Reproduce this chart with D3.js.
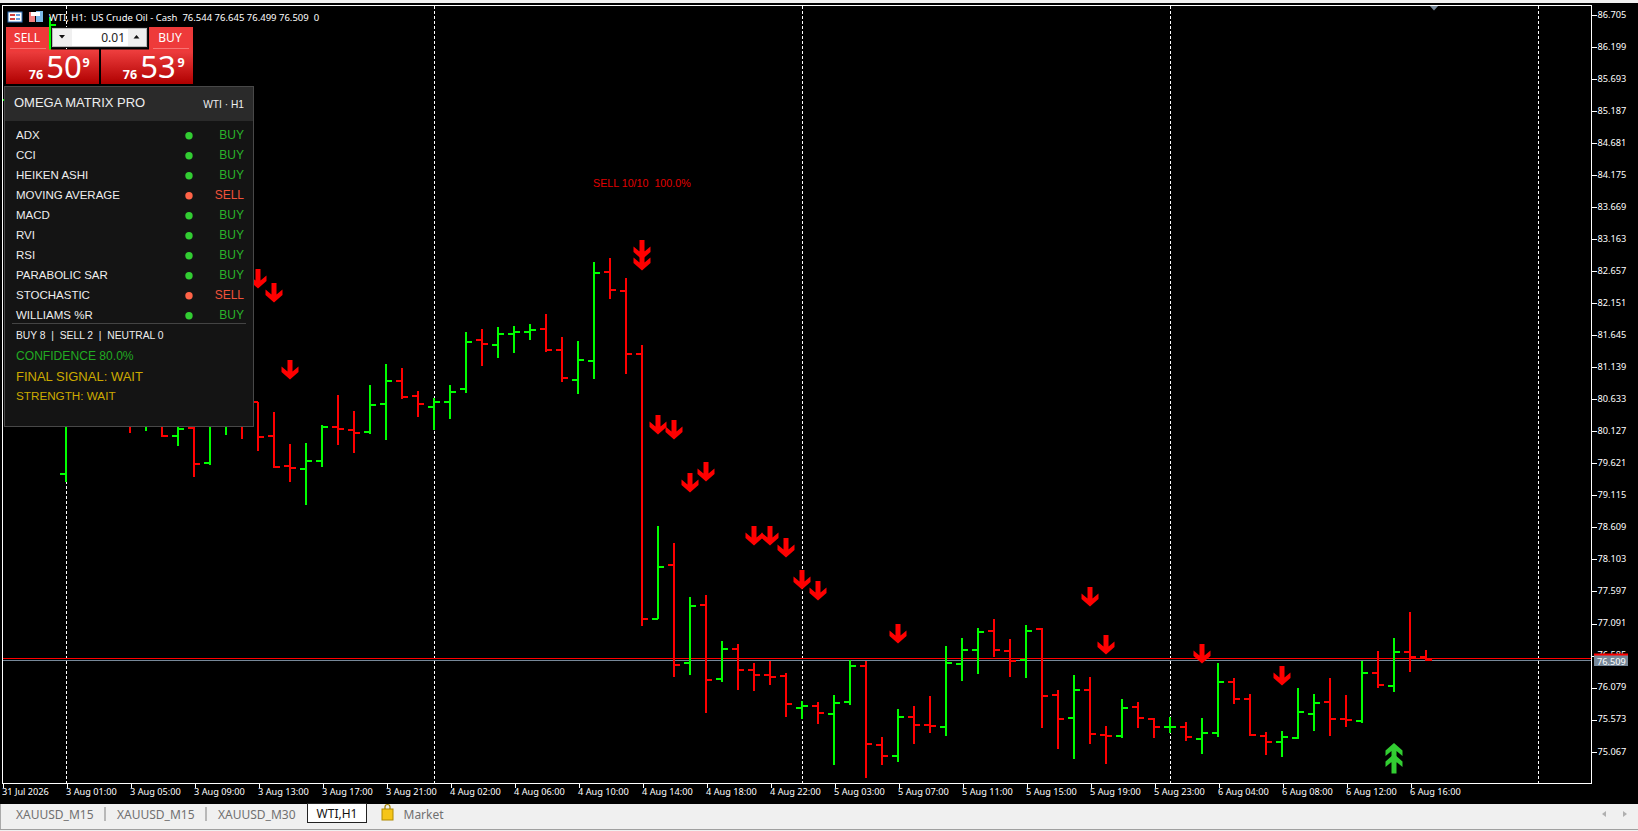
<!DOCTYPE html>
<html><head><meta charset="utf-8">
<style>
html,body{margin:0;padding:0;background:#000;overflow:hidden}
svg{display:block}
text{white-space:pre}
</style>
<script src="https://cdn.jsdelivr.net/npm/d3@7"></script>
</head><body>
<svg id="c" width="1638" height="831" xmlns="http://www.w3.org/2000/svg"></svg>
<script>
// ---------- DATA ----------
const firstBarIndex = -4; // bar 0 = 3 Aug 01:00
const opens = [85.30,85.358,85.30,85.90,79.45,80.62,80.70,80.90,80.60,80.30,80.50,80.053,80.179,79.626,80.25,80.40,80.589,80.057,79.579,79.536,79.658,80.199,80.147,80.116,80.563,80.926,80.689,80.515,80.594,80.799,81.573,81.494,81.668,81.699,81.747,81.415,80.942,81.241,82.647,82.347,81.352,77.168,78.020,76.473,77.389,76.220,76.694,76.362,76.283,76.268,75.762,75.794,75.668,75.857,76.426,75.178,75.004,75.620,75.494,75.462,76.457,76.678,76.978,76.662,76.520,77.005,75.968,75.604,76.047,75.336,75.320,75.778,75.589,75.462,75.462,75.273,75.368,76.173,75.905,75.320,75.226,75.279,75.668,75.857,75.589,75.557,76.315,76.110,76.647,76.568];
const highs = [85.50,85.50,85.40,86.668,80.779,80.90,81.10,81.20,80.90,80.70,80.60,80.40,80.45,80.45,80.50,80.60,80.589,80.431,79.926,79.937,80.226,80.700,80.447,80.858,81.189,81.126,80.763,80.653,80.858,81.695,81.742,81.774,81.789,81.821,81.979,81.616,81.553,82.800,82.863,82.547,81.489,78.631,78.363,77.510,77.542,76.816,76.768,76.468,76.500,76.310,75.868,75.853,75.963,76.516,76.500,75.300,75.742,75.789,75.947,76.737,76.863,77.021,77.163,76.847,77.068,77.021,76.042,76.279,76.247,75.478,75.900,75.853,75.600,75.616,75.536,75.604,76.468,76.231,75.979,75.379,75.395,76.073,75.979,76.231,75.963,76.500,76.658,76.863,77.274,76.673];
const lows = [85.20,85.10,85.10,85.70,79.326,80.30,80.50,80.40,80.10,80.136,80.037,79.895,79.410,79.595,80.068,80.010,79.820,79.547,79.326,78.963,79.563,79.910,79.789,80.089,79.989,80.637,80.353,80.147,80.321,80.732,81.158,81.284,81.363,81.568,81.379,80.905,80.716,80.953,82.216,81.032,77.057,77.158,76.247,76.279,75.679,76.168,76.042,76.026,76.121,75.616,75.584,75.505,74.858,75.805,74.652,74.858,74.905,75.194,75.368,75.320,76.189,76.299,76.568,76.252,76.236,75.446,75.115,74.957,75.194,74.878,75.289,75.446,75.289,75.368,75.241,75.036,75.304,75.825,75.320,75.020,74.989,75.263,75.399,75.320,75.462,75.525,76.078,76.015,76.331,76.505];
const closes = [85.358,85.20,85.25,86.542,80.62,80.70,80.90,80.60,80.30,80.50,80.053,80.168,79.610,80.25,80.40,80.25,80.041,79.568,79.547,79.663,80.199,80.168,80.105,80.547,80.926,80.673,80.563,80.594,80.752,81.541,81.510,81.668,81.699,81.731,81.415,80.973,81.257,82.631,82.363,81.352,77.168,77.989,76.441,77.373,76.205,76.694,76.362,76.283,76.252,75.826,75.794,75.684,75.841,76.426,75.194,75.004,75.620,75.494,75.478,76.473,76.678,76.962,76.678,76.505,76.978,75.952,75.589,76.047,75.352,75.320,75.762,75.604,75.462,75.462,75.304,75.368,76.173,75.905,75.336,75.226,75.304,75.699,75.841,75.589,75.573,76.315,76.126,76.647,76.558,76.509];

const priceTicks = [86.705,86.199,85.693,85.187,84.681,84.175,83.669,83.163,82.657,82.151,81.645,81.139,80.633,80.127,79.621,79.115,78.609,78.103,77.597,77.091,76.585,76.079,75.573,75.067];
const timeTickBars = [-4,0,4,8,12,16,20,24,28,32,36,40,44,48,52,56,60,64,68,72,76,80,84];
const timeLabels = ["31 Jul 2026","3 Aug 01:00","3 Aug 05:00","3 Aug 09:00","3 Aug 13:00","3 Aug 17:00","3 Aug 21:00","4 Aug 02:00","4 Aug 06:00","4 Aug 10:00","4 Aug 14:00","4 Aug 18:00","4 Aug 22:00","5 Aug 03:00","5 Aug 07:00","5 Aug 11:00","5 Aug 15:00","5 Aug 19:00","5 Aug 23:00","6 Aug 04:00","6 Aug 08:00","6 Aug 12:00","6 Aug 16:00"];
const separatorBars = [0,23,46,69,92];

const sellArrowBars = [12,13,14,36,36,37,38,39,40,43,44,45,46,47,52,64,65,71,76];
const sellArrowPrices = [82.689,82.468,81.253,83.147,82.974,80.384,80.305,79.468,79.642,78.631,78.631,78.442,77.937,77.763,77.084,77.668,76.910,76.768,76.421];
const buyArrowBars = [83,83];
const buyArrowPrices = [75.205,75.031];

const bidPrice = 76.509, askPrice = 76.539;

const indicatorNames = ["ADX","CCI","HEIKEN ASHI","MOVING AVERAGE","MACD","RVI","RSI","PARABOLIC SAR","STOCHASTIC","WILLIAMS %R"];
const indicatorSignals = ["BUY","BUY","BUY","SELL","BUY","BUY","BUY","BUY","SELL","BUY"];
const tabNames = ["XAUUSD_M15","XAUUSD_M15","XAUUSD_M30"];

// ---------- SCALES ----------
const x = d3.scaleLinear().domain([-4,92]).range([2,1538]);
const y = d3.scaleLinear().domain([86.705,75.067]).range([14.7,751.7]);

const svg = d3.select("#c");
const defs = svg.append("defs");
const gr = defs.append("linearGradient").attr("id","btn").attr("x1",0).attr("x2",0).attr("y1",0).attr("y2",1);
gr.append("stop").attr("offset","0").attr("stop-color","#f04040");
gr.append("stop").attr("offset","1").attr("stop-color","#b00000");
defs.append("clipPath").attr("id","plot").append("rect").attr("x",2).attr("y",5).attr("width",1590).attr("height",779);

const axisFont = "'Noto Sans',sans-serif";
svg.append("rect").attr("width",1638).attr("height",831).attr("fill","#000");

const plot = svg.append("g").attr("clip-path","url(#plot)");

// separators
plot.append("g").selectAll("line").data(separatorBars).join("line")
  .attr("x1",d=>x(d)+0.5).attr("x2",d=>x(d)+0.5).attr("y1",6).attr("y2",783)
  .attr("stroke","#fff").attr("stroke-width",1).attr("stroke-dasharray","3,2");

// bid/ask lines
[[bidPrice,"#778899"],[askPrice,"#ff0000"]].forEach(([p,col])=>{
  const py = Math.floor(y(p))+0.5;
  plot.append("line").attr("x1",2).attr("x2",1592).attr("y1",py).attr("y2",py)
    .attr("stroke",col).attr("stroke-width",1).attr("shape-rendering","crispEdges");
});

// OHLC bars
const bars = opens.map((o,i)=>({i:i+firstBarIndex,o,h:highs[i],l:lows[i],c:closes[i]}));
const colr = d=>d.c>=d.o?"#00ff00":"#ff0000";
const bg = plot.append("g").attr("shape-rendering","crispEdges");
bg.selectAll(".hl").data(bars).join("rect").attr("class","hl")
  .attr("x",d=>x(d.i)-1).attr("width",2).attr("y",d=>y(d.h)).attr("height",d=>y(d.l)-y(d.h)).attr("fill",colr);
bg.selectAll(".op").data(bars).join("rect").attr("class","op")
  .attr("x",d=>x(d.i)-6).attr("width",6).attr("y",d=>Math.round(y(d.o))-1).attr("height",2).attr("fill",colr);
bg.selectAll(".cl").data(bars).join("rect").attr("class","cl")
  .attr("x",d=>x(d.i)).attr("width",6).attr("y",d=>Math.round(y(d.c))-1).attr("height",2).attr("fill",colr);

// arrows
const downPts = [[-2.5,0],[2.5,0],[2.5,11.5],[8.5,6.5],[8.5,12],[0,19.5],[-8.5,12],[-8.5,6.5],[-2.5,11.5]];
const upPts = downPts.map(p=>[p[0],19.5-p[1]]);
plot.append("g").selectAll("polygon").data(sellArrowBars.map((b,i)=>({b,p:sellArrowPrices[i]}))).join("polygon")
  .attr("points",downPts.map(p=>p.join(",")).join(" ")).attr("fill","#ff0000")
  .attr("transform",d=>`translate(${x(d.b)},${y(d.p)})`);
plot.append("g").selectAll("polygon").data(buyArrowBars.map((b,i)=>({b,p:buyArrowPrices[i]}))).join("polygon")
  .attr("points",upPts.map(p=>p.join(",")).join(" ")).attr("fill","#32cd32")
  .attr("transform",d=>`translate(${x(d.b)},${y(d.p)})`);

// shift marker
svg.append("polygon").attr("points","1429,5 1439,5 1434,10.5").attr("fill","#778899");

// frame
svg.append("rect").attr("x",2.5).attr("y",5.5).attr("width",1589).attr("height",778).attr("fill","none").attr("stroke","#fff").attr("stroke-width",1).attr("shape-rendering","crispEdges");

// axes
const yAxis = d3.axisRight(y).tickValues(priceTicks).tickFormat(d=>d.toFixed(3)).tickSize(5).tickPadding(1);
const yg = svg.append("g").attr("transform","translate(1591.5,0)").call(yAxis);
yg.select(".domain").remove();
yg.selectAll("line").attr("stroke","#fff").attr("shape-rendering","crispEdges");
yg.selectAll("text").attr("fill","#fff").attr("font-family",axisFont).attr("font-size",9.2).attr("dy","0.25em");

const xAxis = d3.axisBottom(x).tickValues(timeTickBars).tickFormat((d,i)=>timeLabels[i]).tickSize(4).tickPadding(1);
const xg = svg.append("g").attr("transform","translate(0.5,783.5)").call(xAxis);
xg.select(".domain").remove();
xg.selectAll("line").attr("stroke","#fff").attr("shape-rendering","crispEdges");
xg.selectAll("text").attr("fill","#fff").attr("font-family",axisFont).attr("font-size",9.2).attr("text-anchor","start").attr("dx",-1);

// bid label
svg.append("rect").attr("x",1594).attr("y",655).attr("width",34).attr("height",11).attr("fill","#778899");
svg.append("rect").attr("x",1594).attr("y",653.5).attr("width",34).attr("height",2).attr("fill","#ff0000");
svg.append("text").attr("x",1597).attr("y",664.5).attr("fill","#fff").attr("font-family",axisFont).attr("font-size",9.2).text(bidPrice.toFixed(3));

// SELL signal text
svg.append("text").attr("x",593).attr("y",187).attr("fill","#e00000").attr("font-family","'Liberation Sans',sans-serif").attr("font-size",10.7).text("SELL 10/10  100.0%");

// title
svg.append("rect").attr("x",8).attr("y",12).attr("width",14).attr("height",10).attr("fill","#fff").attr("stroke","#2f6fb5");
svg.append("rect").attr("x",10).attr("y",14).attr("width",5).attr("height",2).attr("fill","#d04040");
svg.append("rect").attr("x",16).attr("y",14).attr("width",4).attr("height",2).attr("fill","#6aa0e0");
svg.append("rect").attr("x",10).attr("y",18).attr("width",5).attr("height",2).attr("fill","#d04040");
svg.append("rect").attr("x",16).attr("y",18).attr("width",4).attr("height",2).attr("fill","#6aa0e0");
svg.append("rect").attr("x",29).attr("y",12).attr("width",6).attr("height",10).attr("fill","#f08080");
svg.append("rect").attr("x",36).attr("y",11).attr("width",7).attr("height",11).attr("fill","#7ab8e8");
svg.append("rect").attr("x",31).attr("y",12).attr("width",9).attr("height",4).attr("fill","#fff");
svg.append("text").attr("x",49).attr("y",21).attr("fill","#fff").attr("font-family",axisFont).attr("font-size",9.5).text("WTI, H1:  US Crude Oil - Cash  76.544 76.645 76.499 76.509  0");

// trade panel
const btn = "url(#btn)", uiFont = "'Noto Sans',sans-serif";
svg.append("rect").attr("x",6).attr("y",27).attr("width",43).attr("height",23).attr("fill","#ee3a3a");
svg.append("rect").attr("x",149).attr("y",27).attr("width",44).attr("height",23).attr("fill","#ee3a3a");
svg.append("rect").attr("x",10).attr("y",48.5).attr("width",36).attr("height",1).attr("fill","#ffb0b0");
svg.append("rect").attr("x",153).attr("y",48.5).attr("width",36).attr("height",1).attr("fill","#ffb0b0");
svg.append("rect").attr("x",6).attr("y",49.5).attr("width",93).attr("height",34.5).attr("fill",btn);
svg.append("rect").attr("x",101).attr("y",49.5).attr("width",92).attr("height",34.5).attr("fill",btn);
svg.append("rect").attr("x",6).attr("y",49).attr("width",43).attr("height",3).attr("fill","#ee3a3a");
svg.append("rect").attr("x",149).attr("y",49).attr("width",44).attr("height",3).attr("fill","#ee3a3a");
svg.append("rect").attr("x",51).attr("y",27).attr("width",97).attr("height",21).attr("fill","#111");
svg.append("rect").attr("x",52.5).attr("y",28.5).attr("width",94).attr("height",18).attr("fill","#fff").attr("stroke","#bbb");
svg.append("rect").attr("x",53).attr("y",29).attr("width",19).attr("height",17).attr("fill","#f0f0f0");
svg.append("rect").attr("x",128).attr("y",29).attr("width",18).attr("height",17).attr("fill","#f0f0f0");
svg.append("polygon").attr("points","59,35 65,35 62,38.5").attr("fill","#111");
svg.append("polygon").attr("points","133.5,38.5 139.5,38.5 136.5,35").attr("fill","#111");
const wt = (t,xx,yy,s,a,w)=>svg.append("text").attr("x",xx).attr("y",yy).attr("fill","#fff").attr("font-family",uiFont).attr("font-size",s).attr("text-anchor",a||"start").attr("font-weight",w||400).text(t);
wt("SELL",27,42,12,"middle");
wt("BUY",170,42,12,"middle");
svg.append("text").attr("x",125).attr("y",42).attr("fill","#222").attr("font-family",uiFont).attr("font-size",12).attr("text-anchor","end").text("0.01");
wt("76",36,79,12.5,"middle",700);
wt("50",64,78,31,"middle");
wt("9",86,67,12.5,"middle",700);
wt("76",130,79,12.5,"middle",700);
wt("53",158,78,31,"middle");
wt("9",181,67,12.5,"middle",700);

// Omega panel
const pFont = "'Liberation Sans',sans-serif";
const panel = svg.append("g");
panel.append("rect").attr("x",4.5).attr("y",86.5).attr("width",249).attr("height",340).attr("fill","#141414").attr("stroke","#484848").attr("shape-rendering","crispEdges");
panel.append("rect").attr("x",5).attr("y",87).attr("width",248).attr("height",34).attr("fill","#2a2a2a");
const pt = (t,xx,yy,s,f,a)=>panel.append("text").attr("x",xx).attr("y",yy).attr("fill",f).attr("font-family",pFont).attr("font-size",s).attr("text-anchor",a||"start").text(t);
pt("OMEGA MATRIX PRO",14,107,13,"#eeeeee");
pt("WTI · H1",244,107.5,10.2,"#eeeeee","end");
const rowY = d3.scalePoint().domain(indicatorNames).range([134.7,314.7]);
const sigColor = s=>s==="BUY"?"#2ab52a":"#f0523a";
const dotColor = s=>s==="BUY"?"#32cd32":"#ff6347";
indicatorNames.forEach((n,i)=>{
  pt(n,16,rowY(n)+4.2,11.5,"#eeeeee");
  panel.append("circle").attr("cx",189).attr("cy",rowY(n)+1).attr("r",3.7).attr("fill",dotColor(indicatorSignals[i]));
  pt(indicatorSignals[i],244,rowY(n)+4.2,12,sigColor(indicatorSignals[i]),"end");
});
panel.append("rect").attr("x",12).attr("y",323).attr("width",234).attr("height",1).attr("fill","#444");
pt("BUY 8  |  SELL 2  |  NEUTRAL 0",16,339,10.3,"#eeeeee");
pt("CONFIDENCE 80.0%",16,360,12.1,"#22aa22");
pt("FINAL SIGNAL: WAIT",16,381,13,"#ccaa00");
pt("STRENGTH: WAIT",16,400,11.7,"#ccaa00");

// top strip
svg.append("rect").attr("width",1638).attr("height",3).attr("fill","#f0f0f0");

// tab bar
svg.append("rect").attr("y",804).attr("width",1638).attr("height",25).attr("fill","#f0f0f0");
svg.append("rect").attr("y",804).attr("width",1).attr("height",25).attr("fill","#aaa");
svg.append("rect").attr("y",829).attr("width",1638).attr("height",1).attr("fill","#a0a0a0");
svg.append("rect").attr("y",830).attr("width",1638).attr("height",1).attr("fill","#f0f0f0");
const tabFont = "'Noto Sans',sans-serif";
const tabX = d3.scalePoint().domain([0,1,2]).range([16,218]);
tabNames.forEach((t,i)=>{
  svg.append("text").attr("x",tabX(i)).attr("y",819).attr("fill","#707070").attr("font-family",tabFont).attr("font-size",12).text(t);
});
[104.5,205.5].forEach(v=>svg.append("rect").attr("x",v).attr("y",807).attr("width",1).attr("height",14).attr("fill","#808080"));
svg.append("rect").attr("x",307.5).attr("y",803.5).attr("width",59).attr("height",19).attr("fill","#fff").attr("stroke","#222").attr("shape-rendering","crispEdges");
svg.append("text").attr("x",337).attr("y",818).attr("fill","#111").attr("font-family",tabFont).attr("font-size",12).attr("text-anchor","middle").text("WTI,H1");
svg.append("rect").attr("x",382).attr("y",809).attr("width",11).attr("height",11).attr("fill","#f5c518").attr("stroke","#b08a00");
svg.append("path").attr("d","M385,809 v-2 a2.5,2.5 0 0 1 5,0 v2").attr("fill","none").attr("stroke","#a08000").attr("stroke-width",1.2);
svg.append("text").attr("x",403.5).attr("y",819).attr("fill","#707070").attr("font-family",tabFont).attr("font-size",12).text("Market");
svg.append("polygon").attr("points","1606,811 1606,817 1602,814").attr("fill","#b0b0b0");
svg.append("polygon").attr("points","1623,811 1623,817 1627,814").attr("fill","#b0b0b0");
</script>
</body></html>
